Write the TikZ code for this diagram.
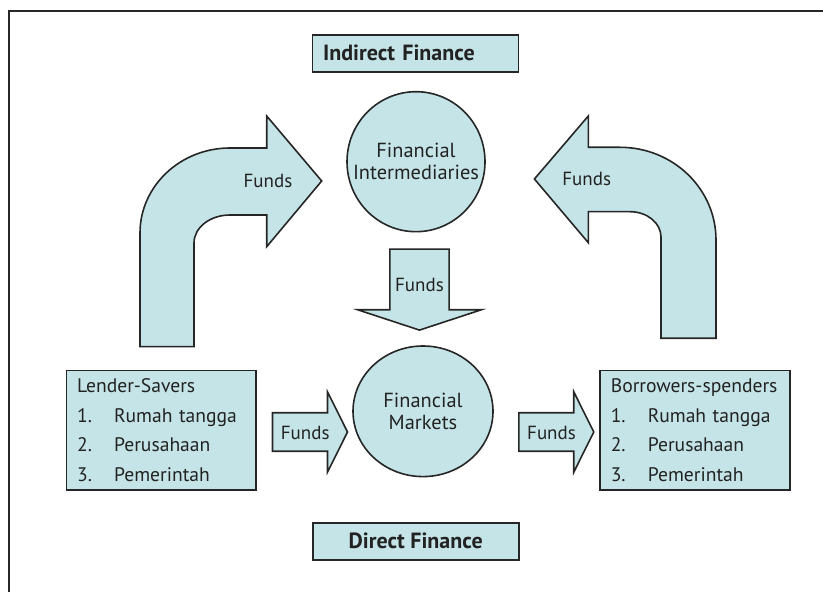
\documentclass[tikz,border=0pt]{standalone}
\usepackage{fontspec}
\setmainfont{PT Sans}
\usetikzlibrary{
  shapes.geometric,
  shapes.arrows,
  positioning
}
\definecolor{fiFill}{HTML}{C5E4E7}
\definecolor{fiLine}{HTML}{262626}
\definecolor{fiText}{HTML}{222222}
\tikzset{
  fishape/.style={draw=fiLine, fill=fiFill, line width=0.8pt, text=fiText},
  fibox/.style={fishape, rectangle, inner ysep=0pt},
  finame/.style={fibox, minimum height=18.5pt, font=\fontsize{11}{13}\selectfont\bfseries},
  figroup/.style={
    fibox, minimum height=59.7pt, align=left, text width=84.2pt, inner xsep=5.3pt,
    font=\fontsize{9.8}{14.75}\selectfont
  },
  fiball/.style={fishape, ellipse, inner sep=-20pt, align=center, font=\fontsize{10.2}{11.2}\selectfont},
  fundarrow/.style={
    fishape, single arrow, single arrow head extend=10.5pt, single arrow tip angle=127,
    inner xsep=1.5pt, inner ysep=5.7pt, text height=7pt, text depth=0pt,
    minimum height=37.5pt, font=\fontsize{9.5}{11}\selectfont
  },
  fundlabel/.style={font=\fontsize{9.5}{11}\selectfont, text=fiText, inner sep=0pt},
  frame/.style={line width=1pt, black!85}
}
\newcommand{\fitem}[2]{\makebox[18.5pt][l]{#1}#2}

\begin{document}
\begin{tikzpicture}[x=0.5pt, y=-0.5pt]
  \useasboundingbox (0,0) rectangle (823,592);
  \draw[frame] (823,11) -| (9,592);

  % titles
  \node[finame, text width=92.5pt, align=left, inner xsep=5.25pt] (indirect) at (415.5,53.3) {Indirect Finance};
  \node[finame, minimum width=103pt] (direct) at (415.7,541.2) {Direct Finance};

  % intermediaries and markets
  \node[fiball, minimum width=69pt, minimum height=70pt] (inter) at (416,161.7) {Financial\\Intermediaries};
  \node[fiball, minimum width=70pt, minimum height=65.3pt] (markets) at (423,411.3) {Financial\\Markets};

  % savers and spenders
  \node[figroup] (lender) at (161.3,430.3)
    {Lender-Savers\\\fitem{1.}{Rumah tangga}\\\fitem{2.}{Perusahaan}\\\fitem{3.}{Pemerintah}};
  \node[figroup] (borrower) at (695,430.3)
    {\mbox{Borrowers-spenders}\\\fitem{1.}{Rumah tangga}\\\fitem{2.}{Perusahaan}\\\fitem{3.}{Pemerintah}};

  % direct route
  \node[fundarrow, anchor=tail] (fundsL) at (271.7,432) {Funds};
  \node[fundarrow, anchor=tail] (fundsR) at (518,432) {Funds};

  % intermediaries -> markets
  \node[fundarrow, shape border rotate=270, single arrow head extend=16.2pt, single arrow tip angle=143.6,
    inner sep=2.25pt, minimum height=40.5pt, anchor=tail] (fundsD) at (419.5,248.3) {Funds};

  % bent arrows into the intermediaries
  \filldraw[fishape] (140,346.7) -- (140,233)
    .. controls (140,186.1) and (180.3,148) .. (230,148) -- (266.7,148) -- (266.7,116)
    -- (321.7,181) -- (266.7,246.7) -- (266.7,215) -- (230,215)
    .. controls (210.1,215) and (194,227.5) .. (194,243) -- (194,346.7) -- cycle;
  \node[fundlabel] (fundsUL) at (268,181) {Funds};

  \filldraw[fishape] (716,338.3) -- (716,240)
    .. controls (716,188.8) and (673,147.3) .. (620,147.3) -- (588.3,147.3) -- (588.3,116)
    -- (534.4,179) -- (588.3,242.7) -- (588.3,211.7) -- (630,211.7)
    .. controls (647.1,211.7) and (661,223) .. (661,237) -- (661,338.3) -- cycle;
  \node[fundlabel] (fundsUR) at (586.7,179) {Funds};
\end{tikzpicture}
\end{document}
